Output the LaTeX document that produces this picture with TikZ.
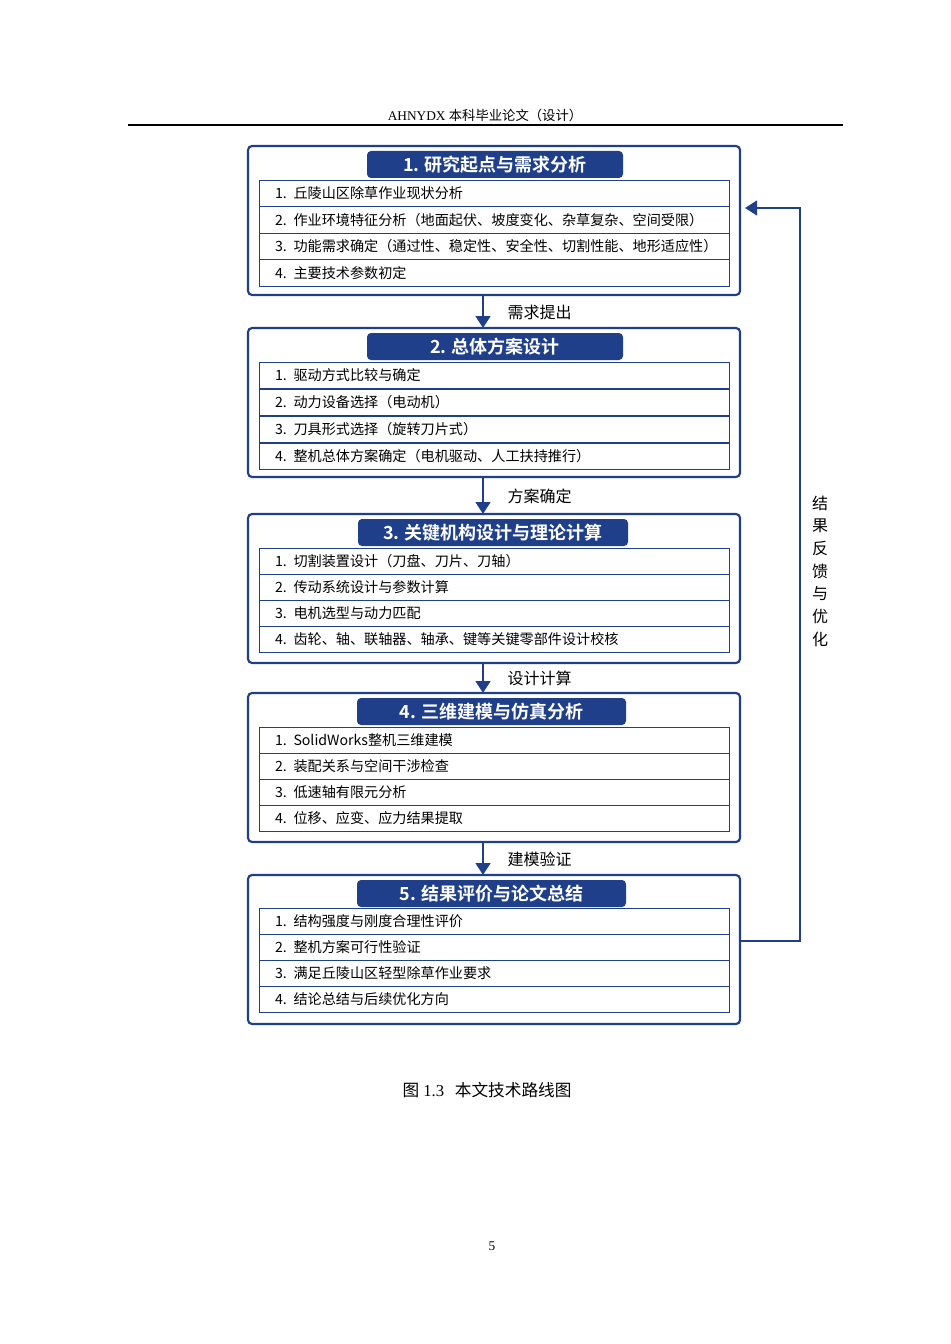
\documentclass[tikz,border=0pt]{standalone}
\usepackage{fontspec}
\setmainfont{Liberation Serif}
\newfontfamily\cjk{Noto Sans CJK SC}
\newfontfamily\cjkbold{Noto Sans CJK SC Bold}
\usetikzlibrary{positioning,arrows.meta,calc}
\definecolor{navy}{HTML}{1F3F8A}
\tikzset{
  outerbox/.style={draw=navy,line width=1.6pt,rounded corners=3pt},
  headbox/.style={fill=navy,rounded corners=3pt},
  rowbox/.style={draw=navy,line width=0.6pt,anchor=north west,minimum width=470*0.75pt,minimum height=26.3*0.75pt,inner sep=0pt,text width=460*0.75pt,align=left,font=\cjk\fontsize{10.6}{12}\selectfont},
  flowarrow/.style={navy,line width=2pt,-{Triangle[length=9pt,width=11pt]}},
  flowlabel/.style={font=\cjk\fontsize{12}{14}\selectfont}
}
\begin{document}
\begin{tikzpicture}[x=0.75pt,y=-0.75pt]
  \useasboundingbox (0,0) rectangle (950,1344);
  \node[font=\fontsize{10}{12}\selectfont] (runhead) at (485,115) {AHNYDX {\cjk 本科毕业论文（设计）}};
  \draw[line width=0.8pt] (128,125) -- (843,125);
  % stage boxes
  \foreach \i/\top/\hl/\hr/\title in {1/146/367/623/1. 研究起点与需求分析, 2/328/367/623/2. 总体方案设计, 3/514/358/628/3. 关键机构设计与理论计算, 4/693/357/626/4. 三维建模与仿真分析, 5/875/357/626/5. 结果评价与论文总结}{
    \draw[outerbox] (248,\top) rectangle (740,\top+149) coordinate (box\i br);
    \coordinate (box\i t) at (483,\top);
    \coordinate (box\i b) at (483,\top+149);
    \fill[headbox] (\hl,\top+5) rectangle (\hr,\top+32);
    \node[text=white,font=\cjkbold\fontsize{13.5}{15}\selectfont] (head\i) at ({(\hl+\hr)/2},\top+18.5) {\title};
  }
  % rows
  \foreach \n/\t in {1/丘陵山区除草作业现状分析, 2/作业环境特征分析（地面起伏、坡度变化、杂草复杂、空间受限）, 3/功能需求确定（通过性、稳定性、安全性、切割性能、地形适应性）, 4/主要技术参数初定}
    \node[rowbox] (rowa\n) at (259,{180+(\n-1)*26.5}) {\hspace*{8pt}\n.\hspace{5pt}\t};
  \foreach \n/\t in {1/驱动方式比较与确定, 2/动力设备选择（电动机）, 3/刀具形式选择（旋转刀片式）, 4/整机总体方案确定（电机驱动、人工扶持推行）}
    \node[rowbox] (rowb\n) at (259,{362+(\n-1)*27}) {\hspace*{8pt}\n.\hspace{5pt}\t};
  \foreach \n/\t in {1/切割装置设计（刀盘、刀片、刀轴）, 2/传动系统设计与参数计算, 3/电机选型与动力匹配, 4/齿轮、轴、联轴器、轴承、键等关键零部件设计校核}
    \node[rowbox] (rowc\n) at (259,{548+(\n-1)*26}) {\hspace*{8pt}\n.\hspace{5pt}\t};
  \foreach \n/\t in {1/SolidWorks整机三维建模, 2/装配关系与空间干涉检查, 3/低速轴有限元分析, 4/位移、应变、应力结果提取}
    \node[rowbox] (rowd\n) at (259,{727+(\n-1)*26}) {\hspace*{8pt}\n.\hspace{5pt}\t};
  \foreach \n/\t in {1/结构强度与刚度合理性评价, 2/整机方案可行性验证, 3/满足丘陵山区轻型除草作业要求, 4/结论总结与后续优化方向}
    \node[rowbox] (rowe\n) at (259,{908+(\n-1)*26}) {\hspace*{8pt}\n.\hspace{5pt}\t};
  % flow arrows
  \foreach \a/\b/\lab in {1/2/需求提出, 2/3/方案确定, 3/4/设计计算, 4/5/建模验证}{
    \draw[flowarrow] (box\a b) -- (box\b t);
    \node[flowlabel,anchor=west] (lab\a) at ([xshift=15pt,yshift=-0.5pt]$(box\a b)!0.5!(box\b t)$) {\lab};
  }
  % feedback
  \coordinate (fbend) at (745,208);
  \draw[flowarrow,line width=1.8pt] (740,941) -- (800,941) -- (800,208) -- (fbend);
  \node[flowlabel,align=center,inner sep=0pt] (fblab) at (820,571) {结\\[3pt]果\\[3pt]反\\[3pt]馈\\[3pt]与\\[3pt]优\\[3pt]化};
  \node[font=\fontsize{12.5}{15}\selectfont] (caption) at (487,1090) {{\cjk 图} 1.3\hspace{8pt}{\cjk 本文技术路线图}};
  \node[font=\fontsize{10}{12}\selectfont] (pagenum) at (492,1246) {5};
\end{tikzpicture}
\end{document}
